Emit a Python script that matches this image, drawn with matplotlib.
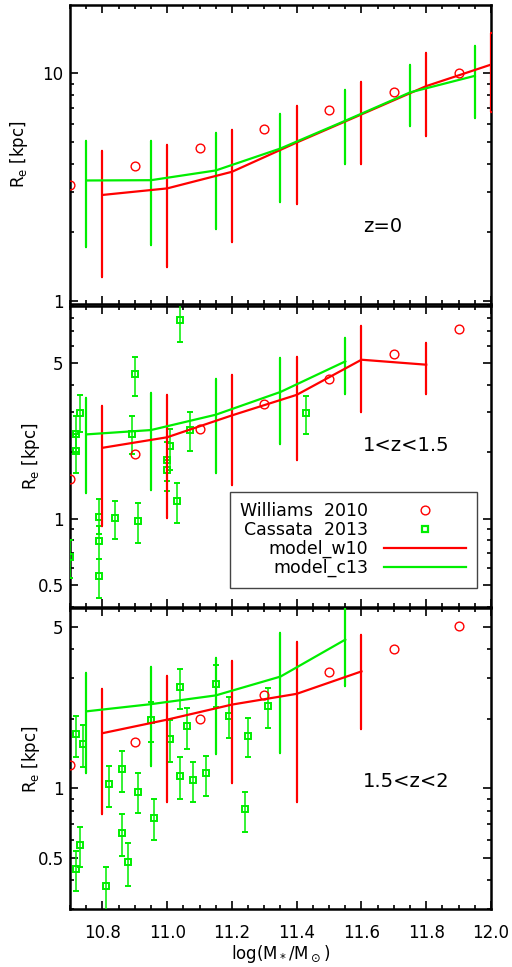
import numpy as np
import matplotlib
matplotlib.use('Agg')
import matplotlib.pyplot as plt
from matplotlib.ticker import FixedLocator, FuncFormatter, MultipleLocator

RED = '#ff0000'
GREEN = '#00ee00'

# --- 데이터: log(M*/Msun) 과 R_e [kpc] ---
# Williams 2010 (원)
w10_x = [10.7, 10.9, 11.1, 11.3, 11.5, 11.7, 11.9]
w10_z0 = [3.23, 3.91, 4.70, 5.68, 6.86, 8.28, 10.0]
w10_z1 = [1.51, 1.96, 2.54, 3.28, 4.25, 5.51, 7.13]
w10_z2 = [1.26, 1.59, 2.00, 2.52, 3.17, 4.00, 5.03]

# model_w10 (빨강): 중앙값, 하한, 상한
mw_x_z0 = [10.8, 11.0, 11.2, 11.4, 11.6, 11.8, 12.0]
mw_z0 = [2.92, 3.12, 3.69, 4.96, 6.59, 8.77, 10.9]
mw_z0_lo = [1.27, 1.41, 1.81, 2.66, 3.99, 5.29, 6.75]
mw_z0_hi = [4.55, 4.83, 5.62, 7.21, 9.16, 12.3, 15.0]

mw_x_z1 = [10.8, 11.0, 11.2, 11.4, 11.6, 11.8]
mw_z1 = [2.08, 2.32, 2.91, 3.60, 5.18, 4.92]
mw_z1_lo = [0.93, 1.01, 1.41, 1.83, 3.01, 3.65]
mw_z1_hi = [3.22, 3.60, 4.43, 5.34, 7.38, 6.17]

mw_x_z2 = [10.8, 11.0, 11.2, 11.4, 11.6]
mw_z2 = [1.73, 1.98, 2.30, 2.56, 3.20]
mw_z2_lo = [0.771, 0.870, 1.05, 0.870, 1.81]
mw_z2_hi = [2.69, 3.07, 3.56, 4.27, 4.62]

# model_c13 (초록)
mc_x_z0 = [10.75, 10.95, 11.15, 11.35, 11.55, 11.75, 11.95]
mc_z0 = [3.38, 3.39, 3.74, 4.67, 6.18, 8.23, 9.73]
mc_z0_lo = [1.72, 1.77, 2.06, 2.73, 3.99, 5.84, 6.37]
mc_z0_hi = [5.03, 5.05, 5.47, 6.63, 8.42, 10.9, 13.2]

mc_x_z1 = [10.75, 10.95, 11.15, 11.35, 11.55]
mc_z1 = [2.39, 2.50, 2.93, 3.71, 5.09]
mc_z1_lo = [1.30, 1.34, 1.60, 2.16, 3.65]
mc_z1_hi = [3.47, 3.67, 4.25, 5.25, 6.52]

mc_x_z2 = [10.75, 10.95, 11.15, 11.35, 11.55]
mc_z2 = [2.15, 2.31, 2.52, 3.04, 4.39]
mc_z2_lo = [1.16, 1.25, 1.40, 1.42, 2.77]
mc_z2_hi = [3.15, 3.35, 3.64, 4.69, 6.2]

# Cassata 2013 (사각형), 1<z<1.5
c13_x_z1 = [10.70, 10.72, 10.72, 10.73, 10.79, 10.79, 10.79, 10.84, 10.89, 10.90,
            10.91, 11.00, 11.00, 11.01, 11.03, 11.04, 11.07, 11.43]
c13_z1 = [0.67, 2.41, 2.01, 2.99, 1.02, 0.79, 0.55, 1.01, 2.41, 4.45,
          0.976, 1.84, 1.65, 2.11, 1.20, 7.83, 2.51, 2.98]
c13_z1_lo = [0.54, 2.00, 1.61, 2.45, 0.85, 0.66, 0.44, 0.81, 1.96, 3.57,
             0.78, 1.47, 1.33, 1.65, 0.957, 6.25, 2.02, 2.39]
c13_z1_hi = [0.80, 2.89, 2.40, 3.58, 1.23, 0.93, 0.66, 1.20, 2.89, 5.34,
             1.18, 2.22, 1.84, 2.53, 1.44, 9.5, 3.00, 3.57]

# Cassata 2013, 1.5<z<2
c13_x_z2 = [10.72, 10.74, 10.72, 10.73, 10.81, 10.82, 10.86, 10.86, 10.88, 10.91,
            10.95, 10.96, 11.01, 11.04, 11.04, 11.06, 11.08, 11.12, 11.15, 11.19,
            11.25, 11.24, 11.31]
c13_z2 = [1.71, 1.56, 0.449, 0.567, 0.379, 1.04, 1.21, 0.638, 0.478, 0.967,
          1.98, 0.746, 1.64, 2.74, 1.13, 1.85, 1.09, 1.16, 2.82, 2.06,
          1.68, 0.811, 2.26]
c13_z2_lo = [1.37, 1.24, 0.359, 0.458, 0.29, 0.83, 0.967, 0.509, 0.379, 0.78,
             1.58, 0.597, 1.30, 2.20, 0.896, 1.48, 0.87, 0.926, 2.25, 1.65,
             1.37, 0.649, 1.82]
c13_z2_hi = [2.05, 1.87, 0.537, 0.678, 0.458, 1.25, 1.45, 0.771, 0.578, 1.16,
             2.37, 0.899, 1.98, 3.29, 1.36, 2.22, 1.30, 1.38, 3.40, 2.47,
             2.02, 0.967, 2.72]

xticks = [10.8, 11.0, 11.2, 11.4, 11.6, 11.8, 12.0]

panels = [
    dict(rect=[0.1367, 0.6856, 0.8223, 0.3092], ylim=(0.97, 19.9), major=[1, 10],
         label='z=0', ly=0.258, labx=-0.095,
         w=w10_z0, mw=(mw_x_z0, mw_z0, mw_z0_lo, mw_z0_hi),
         mc=(mc_x_z0, mc_z0, mc_z0_lo, mc_z0_hi), c13=None),
    dict(rect=[0.1367, 0.3723, 0.8223, 0.3113], ylim=(0.40, 9.04), major=[0.5, 1, 5],
         label='1<z<1.5', ly=0.538, labx=-0.0665,
         w=w10_z1, mw=(mw_x_z1, mw_z1, mw_z1_lo, mw_z1_hi),
         mc=(mc_x_z1, mc_z1, mc_z1_lo, mc_z1_hi),
         c13=(c13_x_z1, c13_z1, c13_z1_lo, c13_z1_hi)),
    dict(rect=[0.1367, 0.0597, 0.8223, 0.3113], ylim=(0.30, 6.0), major=[0.5, 1, 5],
         label='1.5<z<2', ly=0.424, labx=-0.0665,
         w=w10_z2, mw=(mw_x_z2, mw_z2, mw_z2_lo, mw_z2_hi),
         mc=(mc_x_z2, mc_z2, mc_z2_lo, mc_z2_hi),
         c13=(c13_x_z2, c13_z2, c13_z2_lo, c13_z2_hi)),
]

fig = plt.figure(figsize=(5.12, 9.67), dpi=100)

def yerr_of(y, lo, hi):
    y = np.asarray(y)
    return [y - np.asarray(lo), np.asarray(hi) - y]

for i, p in enumerate(panels):
    ax = fig.add_axes(p['rect'])
    ax.set_yscale('log')
    ax.set_xlim(10.7, 12.0)
    ax.set_ylim(*p['ylim'])

    # Cassata 2013
    if p['c13'] is not None:
        cx, cy, clo, chi = p['c13']
        ax.errorbar(cx, cy, yerr=yerr_of(cy, clo, chi), fmt='s', ms=4.5, mfc='none',
                    mec=GREEN, mew=1.4, ecolor=GREEN, elinewidth=1.1, capsize=2.5,
                    capthick=1.1, zorder=3)

    # model_w10
    mx, my, mlo, mhi = p['mw']
    ax.errorbar(mx, my, yerr=yerr_of(my, mlo, mhi), fmt='-', color=RED, lw=1.6,
                elinewidth=1.6, capsize=1.0, capthick=1.6, zorder=4)
    # model_c13
    gx, gy, glo, ghi = p['mc']
    ax.errorbar(gx, gy, yerr=yerr_of(gy, glo, ghi), fmt='-', color=GREEN, lw=1.6,
                elinewidth=1.6, capsize=1.0, capthick=1.6, zorder=4)

    # Williams 2010
    ax.plot(w10_x, p['w'], 'o', ms=6.3, mfc='none', mec=RED, mew=1.0, zorder=5)

    ax.text(0.696, p['ly'], p['label'], transform=ax.transAxes, fontsize=14,
            ha='left', va='center')

    # 축 스타일
    ax.yaxis.set_major_locator(FixedLocator(p['major']))
    ax.yaxis.set_major_formatter(FuncFormatter(lambda v, pos: '%g' % v))
    ax.yaxis.set_minor_formatter(FuncFormatter(lambda v, pos: ''))
    ax.xaxis.set_major_locator(FixedLocator(xticks))
    ax.xaxis.set_minor_locator(MultipleLocator(0.05))
    ax.xaxis.set_major_formatter(FuncFormatter(lambda v, pos: '%.1f' % v))
    ax.tick_params(which='both', direction='in', top=True, right=True, width=1.2)
    ax.tick_params(which='major', length=5.5, labelsize=12)
    ax.tick_params(which='minor', length=2.8)
    ax.tick_params(axis='y', which='major', pad=4.5)
    ax.tick_params(axis='x', which='major', pad=10.5)
    for s in ax.spines.values():
        s.set_linewidth(1.8)

    ax.set_ylabel(r'R$_{\rm e}$ [kpc]', fontsize=12)
    ax.yaxis.set_label_coords(p['labx'], 0.5)

    if i < 2:
        ax.tick_params(axis='x', labelbottom=False)
    else:
        ax.set_xlabel(r'log(M$_*$/M$_\odot$)', fontsize=12)
        ax.xaxis.set_label_coords(0.5, -0.113)

    if i == 1:
        h1, = ax.plot([], [], 'o', ms=6.3, mfc='none', mec=RED, mew=1.0)
        h2, = ax.plot([], [], 's', ms=4.5, mfc='none', mec=GREEN, mew=1.6)
        h3, = ax.plot([], [], '-', color=RED, lw=1.6)
        h4, = ax.plot([], [], '-', color=GREEN, lw=1.6)
        leg = ax.legend([h1, h2, h3, h4],
                        ['Williams  2010', 'Cassata  2013', 'model_w10', 'model_c13'],
                        loc='upper right', bbox_to_anchor=(0.966, 0.383),
                        borderaxespad=0, markerfirst=False, fontsize=12.5,
                        handlelength=4.75, handletextpad=0.9, labelspacing=0.05,
                        borderpad=0.6, fancybox=False, framealpha=1)
        leg.get_frame().set_edgecolor('#444444')
        leg.get_frame().set_linewidth(1.0)

fig.savefig('out.png', dpi=100)
